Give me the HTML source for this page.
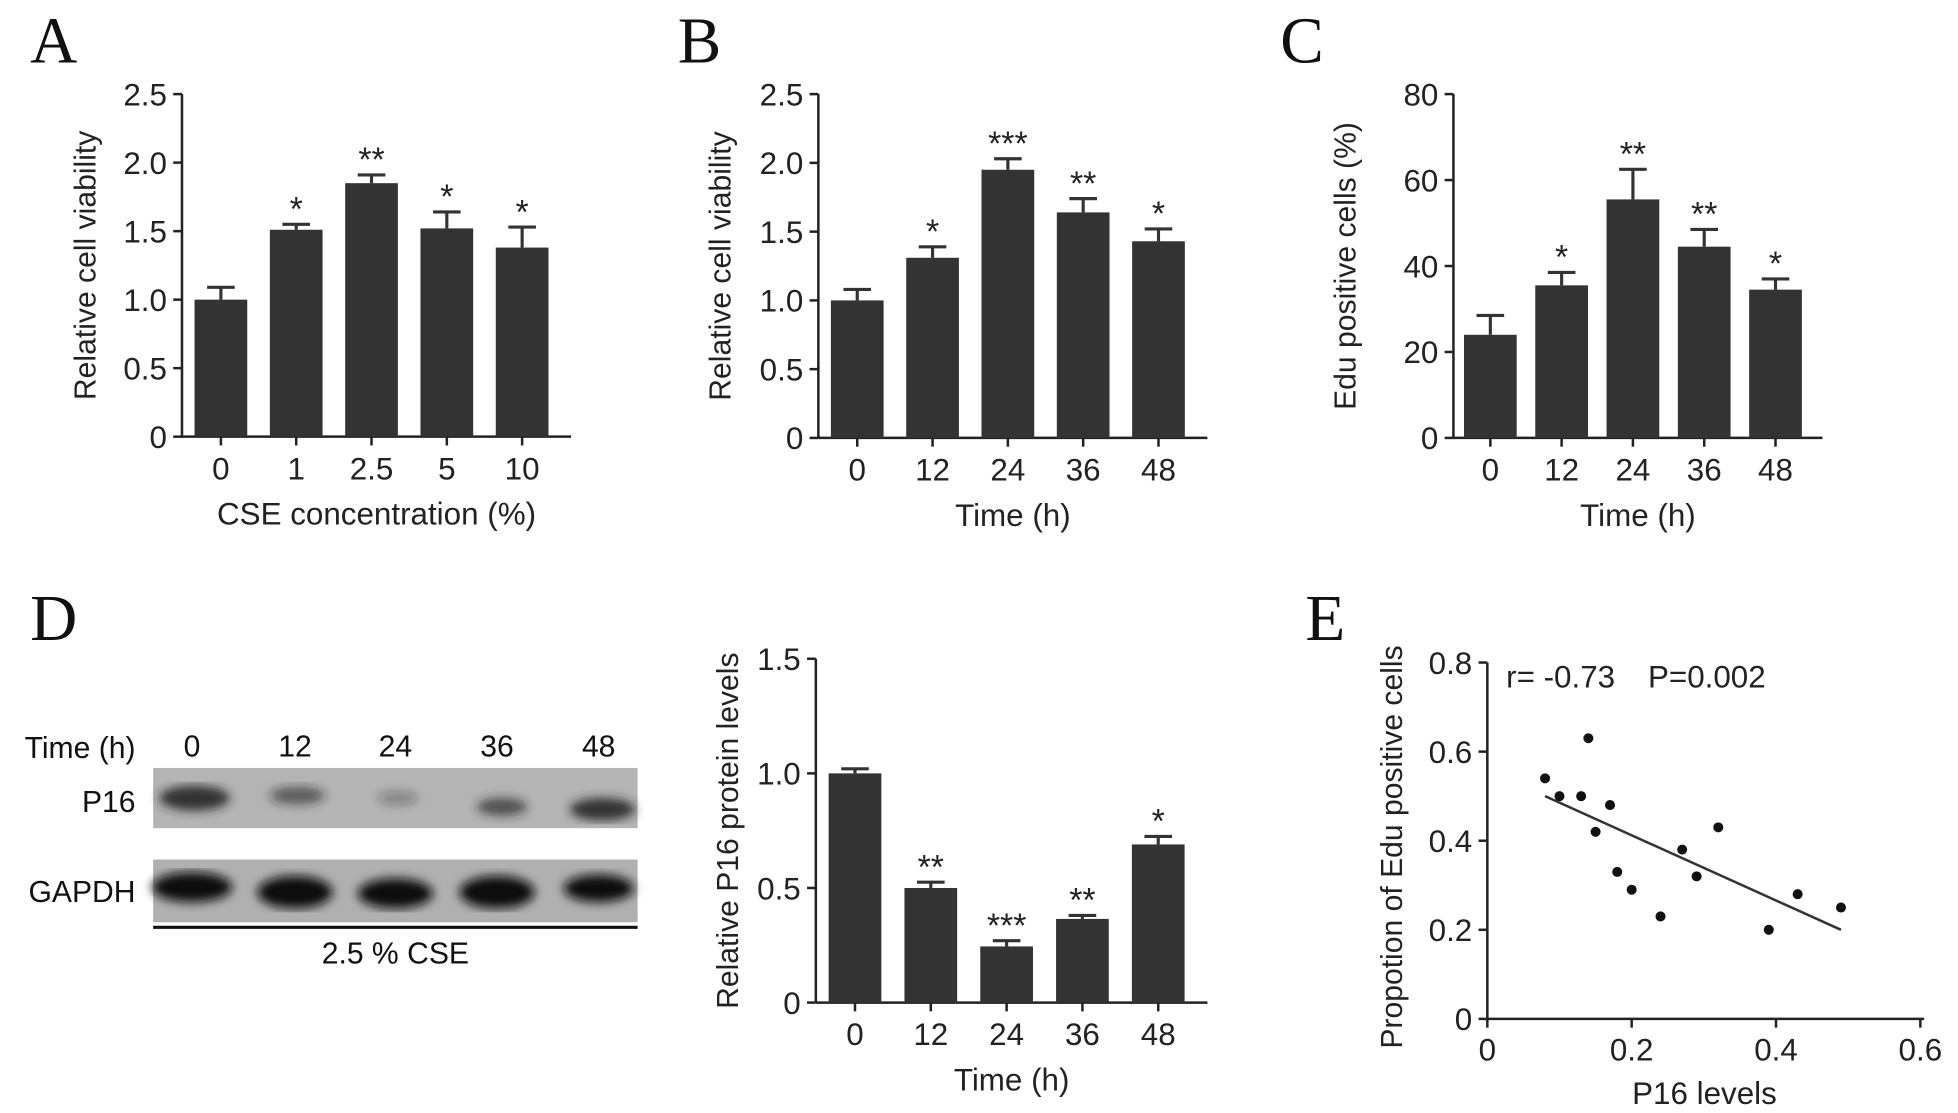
<!DOCTYPE html>
<html><head><meta charset="utf-8"><style>
html,body{margin:0;padding:0;background:#fff;}
svg{display:block;font-family:"Liberation Sans",sans-serif;}
.lt{font-family:"Liberation Serif",serif;font-size:52px;fill:#111;}
</style></head><body>
<svg id="fig" width="1958" height="1113" viewBox="0 0 1560 887" preserveAspectRatio="none" xmlns="http://www.w3.org/2000/svg">
<text class="lt" x="24" y="50">A</text>
<text class="lt" x="540" y="50">B</text>
<text class="lt" x="1020" y="50">C</text>
<text class="lt" x="24" y="510">D</text>
<text class="lt" x="1040" y="510">E</text>
<g font-size="24" fill="#111">
<text x="108" y="604" text-anchor="end">Time (h)</text>
<text x="153" y="603" text-anchor="middle">0</text>
<text x="235" y="603" text-anchor="middle">12</text>
<text x="315" y="603" text-anchor="middle">24</text>
<text x="396" y="603" text-anchor="middle">36</text>
<text x="477" y="603" text-anchor="middle">48</text>
<text x="108" y="647" text-anchor="end">P16</text>
<text x="108" y="719" text-anchor="end">GAPDH</text>
<defs><filter id="bl"><feGaussianBlur stdDeviation="4"/></filter></defs>
<rect x="122" y="612" width="386" height="48" fill="#b4b4b4"/>
<g filter="url(#bl)" fill="#222">
<ellipse cx="155" cy="636" rx="28" ry="10" opacity="0.9"/>
<ellipse cx="237" cy="634" rx="22" ry="7" opacity="0.6"/>
<ellipse cx="317" cy="636" rx="16" ry="5" opacity="0.35"/>
<ellipse cx="400" cy="643" rx="20" ry="7" opacity="0.7"/>
<ellipse cx="480" cy="645" rx="26" ry="9" opacity="0.9"/>
</g>
<rect x="122" y="685" width="386" height="50" fill="#b0b0b0"/>
<g filter="url(#bl)" fill="#111">
<ellipse cx="153" cy="707" rx="32" ry="12"/>
<ellipse cx="235" cy="711" rx="30" ry="13"/>
<ellipse cx="315" cy="712" rx="30" ry="12"/>
<ellipse cx="396" cy="711" rx="30" ry="13"/>
<ellipse cx="477" cy="708" rx="28" ry="11"/>
</g>
<line x1="122" y1="739" x2="508" y2="739" stroke="#111" stroke-width="2.5"/>
<text x="315" y="768" text-anchor="middle">2.5 % CSE</text>
</g>
<g id="charts"></g>
</svg>
<script>
const catsA=["0","1","2.5","5","10"];
const valsA=[1.0,1.51,1.85,1.52,1.38];
const errA=[0.09,0.04,0.06,0.12,0.15];
const starsA=["","*","**","*","*"];
const ticksA=["0","0.5","1.0","1.5","2.0","2.5"];
const tickValsA=[0,0.5,1.0,1.5,2.0,2.5];

const catsB=["0","12","24","36","48"];
const valsB=[1.0,1.31,1.95,1.64,1.43];
const errB=[0.08,0.08,0.08,0.1,0.09];
const starsB=["","*","***","**","*"];

const catsC=["0","12","24","36","48"];
const valsC=[24,35.5,55.5,44.5,34.5];
const errC=[4.5,3,7,4,2.5];
const starsC=["","*","**","**","*"];
const ticksC=["0","20","40","60","80"];
const tickValsC=[0,20,40,60,80];

const catsD=["0","12","24","36","48"];
const valsD=[1.0,0.5,0.245,0.365,0.69];
const errD=[0.02,0.025,0.025,0.015,0.035];
const starsD=["","**","***","**","*"];
const ticksD=["0","0.5","1.0","1.5"];
const tickValsD=[0,0.5,1.0,1.5];

const scatX=[0.08,0.10,0.13,0.14,0.15,0.17,0.18,0.20,0.24,0.27,0.29,0.32,0.39,0.43,0.49];
const scatY=[0.54,0.50,0.50,0.63,0.42,0.48,0.33,0.29,0.23,0.38,0.32,0.43,0.20,0.28,0.25];
const fitX=[0.08,0.49];
const fitY=[0.50,0.20];
const ticksEX=["0","0.2","0.4","0.6"];
const tickValsEX=[0,0.2,0.4,0.6];
const ticksEY=["0","0.2","0.4","0.6","0.8"];
const tickValsEY=[0,0.2,0.4,0.6,0.8];

const NS="http://www.w3.org/2000/svg";
const root=document.getElementById('charts');
function mk(tag,attrs,parent,txt){const e=document.createElementNS(NS,tag);for(const k in attrs)e.setAttribute(k,attrs[k]);if(txt!==undefined)e.textContent=txt;(parent||root).appendChild(e);return e;}

function barChart(o){
  const g=mk('g',{});
  
  
  const y=v=>o.y0-(v/o.ymax)*(o.y0-o.ytop);
  const n=o.cats.length, step=(o.x1-o.ax-10)/n;
  const xc=i=>o.ax+step*(i+0.5)+1;
  const ya=mk('line',{x1:o.ax,y1:o.ytop,x2:o.ax,y2:o.y0,stroke:'#222','stroke-width':2},g);
  
  
  const xa=mk('line',{x1:o.ax,y1:o.y0,x2:o.x1,y2:o.y0,stroke:'#222','stroke-width':2},g);
  
  
  o.tickVals.forEach((tv,i)=>{
    mk('line',{x1:o.ax-7,y1:y(tv),x2:o.ax,y2:y(tv),stroke:'#222','stroke-width':2},g);
    const t=mk('text',{x:o.ax-12,y:y(tv)+9,'text-anchor':'end','font-size':25,fill:'#222'},g,o.ticks[i]);
    
    
  });
  o.cats.forEach((c,i)=>{
    const cx=xc(i), bw=42;
    const b=mk('rect',{x:cx-bw/2,y:y(o.vals[i]),width:bw,height:o.y0-y(o.vals[i]),fill:'#333'},g);
    
    
    const te=y(o.vals[i]+o.errs[i]);
    mk('line',{x1:cx,y1:y(o.vals[i]),x2:cx,y2:te,stroke:'#333','stroke-width':2.5},g);
    mk('line',{x1:cx-11,y1:te,x2:cx+11,y2:te,stroke:'#333','stroke-width':2.5},g);
    if(o.stars[i]){const s=mk('text',{x:cx,y:te-3,'text-anchor':'middle','font-size':27,fill:'#222'},g,o.stars[i]);
      
      }
    mk('line',{x1:cx,y1:o.y0,x2:cx,y2:o.y0+7,stroke:'#222','stroke-width':2},g);
    const t=mk('text',{x:cx,y:o.y0+34,'text-anchor':'middle','font-size':25,fill:'#222'},g,c);
    
    
  });
  const yl=mk('text',{x:0,y:0,'text-anchor':'middle','font-size':24,fill:'#222',transform:`translate(${o.ylx},${(o.ytop+o.y0)/2}) rotate(-90)`},g,o.ylabel);
  
  
  const xl=mk('text',{x:(o.ax+o.x1)/2,y:o.y0+70,'text-anchor':'middle','font-size':25,fill:'#222'},g,o.xlabel);
  
  
}
barChart({name:'chart-a',cats:catsA,vals:valsA,errs:errA,stars:starsA,ticks:ticksA,tickVals:tickValsA,ymax:2.5,ax:145,x1:455,ytop:75,y0:348,ylx:76,ylabel:'Relative cell viability',xlabel:'CSE concentration (%)'});
barChart({name:'chart-b',cats:catsB,vals:valsB,errs:errB,stars:starsB,ticks:ticksA,tickVals:tickValsA,ymax:2.5,ax:652,x1:962,ytop:75,y0:349,ylx:582,ylabel:'Relative cell viability',xlabel:'Time (h)'});
barChart({name:'chart-c',cats:catsC,vals:valsC,errs:errC,stars:starsC,ticks:ticksC,tickVals:tickValsC,ymax:80,ax:1158,x1:1452,ytop:75,y0:349,ylx:1080,ylabel:'Edu positive cells (%)',xlabel:'Time (h)'});
barChart({name:'chart-d',cats:catsD,vals:valsD,errs:errD,stars:starsD,ticks:ticksD,tickVals:tickValsD,ymax:1.5,ax:650,x1:962,ytop:525,y0:799,ylx:588,ylabel:'Relative P16 protein levels',xlabel:'Time (h)'});

(function(){
  const g=mk('g',{});
  
  
  const ax=1185,x1=1530,ytop=528,y0=812;
  const X=v=>ax+v/0.6*(x1-ax), Y=v=>y0-v/0.8*(y0-ytop);
  mk('line',{x1:ax,y1:ytop,x2:ax,y2:y0,stroke:'#222','stroke-width':2},g);
  mk('line',{x1:ax,y1:y0,x2:x1+3,y2:y0,stroke:'#222','stroke-width':2},g);
  tickValsEY.forEach((tv,i)=>{
    mk('line',{x1:ax-7,y1:Y(tv),x2:ax,y2:Y(tv),stroke:'#222','stroke-width':2},g);
    const t=mk('text',{x:ax-12,y:Y(tv)+9,'text-anchor':'end','font-size':25,fill:'#222'},g,ticksEY[i]);
    
    
  });
  tickValsEX.forEach((tv,i)=>{
    mk('line',{x1:X(tv),y1:y0,x2:X(tv),y2:y0+7,stroke:'#222','stroke-width':2},g);
    const t=mk('text',{x:X(tv),y:y0+33,'text-anchor':'middle','font-size':25,fill:'#222'},g,ticksEX[i]);
    
    
  });
  scatX.forEach((v,i)=>{
    const c=mk('circle',{cx:X(v),cy:Y(scatY[i]),r:4,fill:'#111'},g);
    
    
  });
  const fl=mk('line',{x1:X(fitX[0]),y1:Y(fitY[0]),x2:X(fitX[1]),y2:Y(fitY[1]),stroke:'#333','stroke-width':2},g);
  
  
  const st=mk('text',{x:1200,y:548,'font-size':25,fill:'#222'},g,'r= -0.73');
  
  
  const sp=mk('text',{x:1313,y:548,'font-size':25,fill:'#222'},g,'P=0.002');
  
  
  const yl=mk('text',{x:0,y:0,'text-anchor':'middle','font-size':24,fill:'#222',transform:`translate(1117,675) rotate(-90)`},g,'Propotion of Edu positive cells');
  
  
  const xl=mk('text',{x:1358,y:880,'text-anchor':'middle','font-size':25,fill:'#222'},g,'P16 levels');
  
  
})();
</script>
</body></html>
